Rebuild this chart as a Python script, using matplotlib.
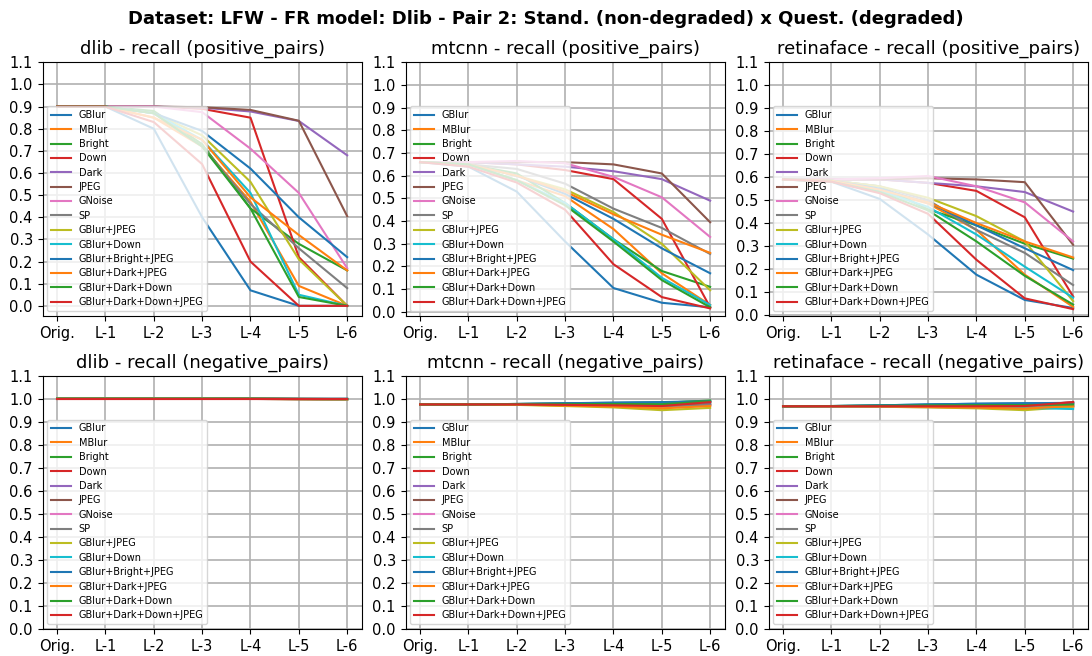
import numpy as np
import matplotlib
matplotlib.use('Agg')
import matplotlib.pyplot as plt

levels = ['Orig.', 'L-1', 'L-2', 'L-3', 'L-4', 'L-5', 'L-6']
degradations = ['GBlur', 'MBlur', 'Bright', 'Down', 'Dark', 'JPEG', 'GNoise', 'SP',
                'GBlur+JPEG', 'GBlur+Down', 'GBlur+Bright+JPEG', 'GBlur+Dark+JPEG',
                'GBlur+Dark+Down', 'GBlur+Dark+Down+JPEG']
colors = ['C0', 'C1', 'C2', 'C3', 'C4', 'C5', 'C6', 'C7', 'C8', 'C9', 'C0', 'C1', 'C2', 'C3']

# recall, positive pairs (one row per degradation, same order as above)
dlib_pos = [
    [0.90, 0.90, 0.80, 0.40, 0.07, 0.00, 0.00],
    [0.90, 0.90, 0.85, 0.72, 0.47, 0.09, 0.00],
    [0.90, 0.90, 0.88, 0.73, 0.44, 0.28, 0.16],
    [0.90, 0.90, 0.90, 0.89, 0.85, 0.22, 0.00],
    [0.90, 0.90, 0.90, 0.895, 0.878, 0.835, 0.68],
    [0.90, 0.90, 0.90, 0.897, 0.885, 0.836, 0.405],
    [0.90, 0.90, 0.90, 0.875, 0.71, 0.51, 0.17],
    [0.90, 0.90, 0.87, 0.72, 0.46, 0.26, 0.08],
    [0.90, 0.90, 0.87, 0.77, 0.56, 0.21, 0.00],
    [0.90, 0.90, 0.87, 0.75, 0.51, 0.05, 0.00],
    [0.90, 0.90, 0.87, 0.79, 0.62, 0.40, 0.22],
    [0.90, 0.90, 0.85, 0.75, 0.49, 0.32, 0.16],
    [0.90, 0.90, 0.87, 0.72, 0.44, 0.04, 0.00],
    [0.90, 0.90, 0.83, 0.64, 0.20, 0.00, 0.00],
]
mtcnn_pos = [
    [0.66, 0.64, 0.53, 0.31, 0.105, 0.04, 0.02],
    [0.66, 0.65, 0.58, 0.51, 0.365, 0.17, 0.03],
    [0.66, 0.65, 0.61, 0.48, 0.32, 0.18, 0.11],
    [0.66, 0.66, 0.65, 0.625, 0.585, 0.41, 0.02],
    [0.66, 0.66, 0.65, 0.64, 0.62, 0.585, 0.49],
    [0.66, 0.66, 0.66, 0.66, 0.65, 0.61, 0.395],
    [0.66, 0.66, 0.665, 0.655, 0.595, 0.505, 0.33],
    [0.66, 0.65, 0.63, 0.565, 0.455, 0.37, 0.255],
    [0.66, 0.65, 0.60, 0.54, 0.44, 0.30, 0.095],
    [0.66, 0.65, 0.58, 0.48, 0.32, 0.15, 0.03],
    [0.66, 0.65, 0.60, 0.52, 0.41, 0.28, 0.17],
    [0.66, 0.65, 0.60, 0.53, 0.43, 0.34, 0.26],
    [0.66, 0.65, 0.58, 0.47, 0.31, 0.14, 0.02],
    [0.66, 0.64, 0.57, 0.45, 0.21, 0.065, 0.015],
]
retina_pos = [
    [0.59, 0.58, 0.505, 0.35, 0.175, 0.065, 0.03],
    [0.59, 0.585, 0.54, 0.485, 0.37, 0.175, 0.035],
    [0.59, 0.585, 0.56, 0.46, 0.39, 0.31, 0.245],
    [0.59, 0.59, 0.59, 0.575, 0.54, 0.425, 0.08],
    [0.59, 0.59, 0.59, 0.575, 0.56, 0.535, 0.45],
    [0.59, 0.59, 0.59, 0.595, 0.59, 0.578, 0.305],
    [0.59, 0.59, 0.595, 0.605, 0.56, 0.49, 0.32],
    [0.59, 0.585, 0.56, 0.50, 0.37, 0.27, 0.13],
    [0.59, 0.585, 0.56, 0.51, 0.43, 0.32, 0.06],
    [0.59, 0.585, 0.54, 0.47, 0.35, 0.21, 0.075],
    [0.59, 0.585, 0.55, 0.49, 0.39, 0.29, 0.195],
    [0.59, 0.585, 0.545, 0.49, 0.40, 0.32, 0.25],
    [0.59, 0.58, 0.535, 0.455, 0.32, 0.17, 0.045],
    [0.59, 0.58, 0.53, 0.44, 0.24, 0.072, 0.025],
]

# recall, negative pairs
dlib_neg = [
    [1.0, 1.0, 1.0, 1.0, 1.0, 0.999, 0.999],
    [1.0, 1.0, 1.0, 1.0, 0.999, 0.998, 0.997],
    [1.0, 1.0, 1.0, 1.0, 1.0, 0.999, 0.998],
    [1.0, 1.0, 1.0, 1.0, 1.0, 1.0, 1.0],
    [1.0, 1.0, 1.0, 1.0, 1.0, 0.999, 0.999],
    [1.0, 1.0, 1.0, 1.0, 0.999, 0.997, 0.996],
    [1.0, 1.0, 1.0, 1.0, 1.0, 0.999, 0.998],
    [1.0, 1.0, 1.0, 1.0, 1.0, 0.998, 0.997],
    [1.0, 1.0, 1.0, 1.0, 0.999, 0.998, 0.997],
    [1.0, 1.0, 1.0, 1.0, 1.0, 0.999, 0.998],
    [1.0, 1.0, 1.0, 1.0, 1.0, 0.999, 0.999],
    [1.0, 1.0, 1.0, 1.0, 1.0, 0.999, 0.998],
    [1.0, 1.0, 1.0, 1.0, 1.0, 0.999, 0.999],
    [1.0, 1.0, 1.0, 1.0, 1.0, 1.0, 1.0],
]
mtcnn_neg = [
    [0.975, 0.975, 0.977, 0.980, 0.983, 0.985, 0.990],
    [0.975, 0.975, 0.975, 0.972, 0.968, 0.960, 0.975],
    [0.975, 0.975, 0.977, 0.979, 0.981, 0.982, 0.992],
    [0.975, 0.975, 0.975, 0.975, 0.975, 0.975, 0.985],
    [0.975, 0.975, 0.974, 0.972, 0.970, 0.968, 0.978],
    [0.975, 0.975, 0.975, 0.974, 0.972, 0.970, 0.975],
    [0.975, 0.975, 0.975, 0.973, 0.970, 0.965, 0.970],
    [0.975, 0.975, 0.975, 0.974, 0.972, 0.968, 0.972],
    [0.975, 0.975, 0.973, 0.968, 0.962, 0.950, 0.960],
    [0.975, 0.975, 0.976, 0.977, 0.978, 0.978, 0.985],
    [0.975, 0.975, 0.977, 0.980, 0.982, 0.984, 0.988],
    [0.975, 0.975, 0.974, 0.970, 0.966, 0.958, 0.968],
    [0.975, 0.975, 0.976, 0.976, 0.977, 0.976, 0.988],
    [0.975, 0.975, 0.975, 0.973, 0.971, 0.968, 0.985],
]
retina_neg = [
    [0.967, 0.968, 0.971, 0.975, 0.978, 0.980, 0.980],
    [0.967, 0.967, 0.967, 0.965, 0.962, 0.958, 0.965],
    [0.967, 0.968, 0.970, 0.973, 0.975, 0.976, 0.978],
    [0.967, 0.967, 0.968, 0.968, 0.969, 0.970, 0.985],
    [0.967, 0.967, 0.967, 0.966, 0.964, 0.962, 0.968],
    [0.967, 0.967, 0.967, 0.967, 0.966, 0.965, 0.970],
    [0.967, 0.966, 0.965, 0.963, 0.960, 0.958, 0.962],
    [0.967, 0.967, 0.967, 0.966, 0.964, 0.962, 0.975],
    [0.967, 0.967, 0.965, 0.962, 0.958, 0.950, 0.965],
    [0.967, 0.967, 0.966, 0.965, 0.963, 0.960, 0.955],
    [0.967, 0.968, 0.971, 0.975, 0.978, 0.980, 0.982],
    [0.967, 0.967, 0.966, 0.964, 0.961, 0.957, 0.968],
    [0.967, 0.968, 0.969, 0.971, 0.972, 0.972, 0.975],
    [0.967, 0.967, 0.967, 0.967, 0.967, 0.968, 0.985],
]

detectors = ['dlib', 'mtcnn', 'retinaface']
pos_data = [dlib_pos, mtcnn_pos, retina_pos]
neg_data = [dlib_neg, mtcnn_neg, retina_neg]

fig, axes = plt.subplots(2, 3, figsize=(10.92, 6.56), dpi=100)
x = np.arange(len(levels))

for row, (kind, data) in enumerate([('positive_pairs', pos_data), ('negative_pairs', neg_data)]):
    for col, det in enumerate(detectors):
        ax = axes[row, col]
        for name, c, vals in zip(degradations, colors, data[col]):
            ax.plot(x, vals, color=c, label=name)
        ax.set_title(f'{det} - recall ({kind})', fontsize=13)
        ax.set_xticks(x)
        ax.set_xticklabels(levels)
        ax.set_yticks(np.arange(0, 1.11, 0.1))
        ax.tick_params(labelsize=10.5)
        if row == 0:
            ax.set_ylim(top=1.1)
        else:
            ax.set_ylim(0, 1.1)
        ax.grid(True, linewidth=1.2)
        ax.legend(loc='lower left', fontsize=7, labelspacing=0.45)

fig.suptitle('Dataset: LFW - FR model: Dlib - Pair 2: Stand. (non-degraded) x Quest. (degraded)',
             fontweight='bold', fontsize=13, y=0.985)
fig.subplots_adjust(left=0.039, right=0.996, top=0.905, bottom=0.041, wspace=0.1375, hspace=0.236)
fig.savefig('out.png')
